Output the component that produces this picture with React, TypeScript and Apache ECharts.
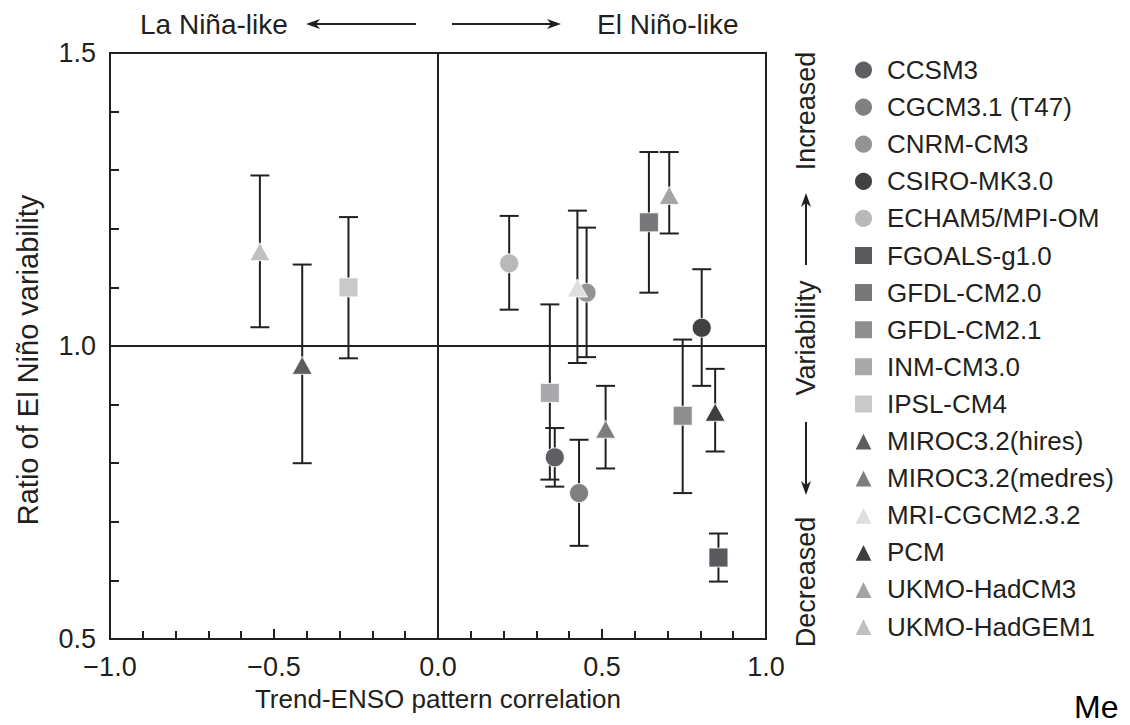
import React, { useEffect, useRef } from 'react';
import * as echarts from 'echarts';

const models = [
  'CCSM3', 'CGCM3.1 (T47)', 'CNRM-CM3', 'CSIRO-MK3.0', 'ECHAM5/MPI-OM',
  'FGOALS-g1.0', 'GFDL-CM2.0', 'GFDL-CM2.1', 'INM-CM3.0', 'IPSL-CM4',
  'MIROC3.2(hires)', 'MIROC3.2(medres)', 'MRI-CGCM2.3.2', 'PCM', 'UKMO-HadCM3', 'UKMO-HadGEM1',
];
const shapes = [
  'circle', 'circle', 'circle', 'circle', 'circle',
  'rect', 'rect', 'rect', 'rect', 'rect',
  'triangle', 'triangle', 'triangle', 'triangle', 'triangle', 'triangle',
];
const colors = [
  '#5f5f63', '#808083', '#939396', '#414144', '#b9b9bb',
  '#5a5a5e', '#78787b', '#8e8e91', '#a9a9ab', '#c9c9cb',
  '#5d5d61', '#7d7d80', '#dedede', '#3d3d40', '#a4a4a6', '#c0c0c2',
];
// Trend-ENSO pattern correlation
const trendCorr = [0.356, 0.430, 0.453, 0.804, 0.217, 0.855, 0.643, 0.746, 0.341, -0.273, -0.414, 0.511, 0.425, 0.845, 0.705, -0.543];
// Ratio of El Niño variability
const ratio = [0.810, 0.749, 1.091, 1.031, 1.141, 0.639, 1.211, 0.881, 0.920, 1.100, 0.967, 0.858, 1.099, 0.887, 1.257, 1.161];
const ratioLow = [0.760, 0.659, 0.981, 0.932, 1.062, 0.598, 1.091, 0.749, 0.772, 0.979, 0.800, 0.791, 0.971, 0.820, 1.192, 1.032];
const ratioHigh = [0.860, 0.840, 1.202, 1.131, 1.222, 0.680, 1.331, 1.011, 1.071, 1.220, 1.139, 0.932, 1.231, 0.961, 1.331, 1.291];

const xTickLabels = ['\u22121.0', '\u22120.5', '0.0', '0.5', '1.0'];
const yTickLabels = ['0.5', '1.0', '1.5'];

const INK = '#231f20';
const FONT = '"Liberation Sans", Arial, Helvetica, sans-serif';

export default function App() {
  const ref = useRef<HTMLDivElement>(null);
  useEffect(() => {
    if (!ref.current) return;
    const chart = echarts.init(ref.current, null, { renderer: 'svg' });

    const errorData = trendCorr.map((x, i) => [x, ratioLow[i], ratioHigh[i]]);

    const scatterSeries = models.map((m, i) => ({
      type: 'scatter',
      name: m,
      symbol: shapes[i],
      symbolSize: shapes[i] === 'triangle' ? [20, 18] : 19,
      itemStyle: { color: colors[i], borderColor: '#ffffff', borderWidth: 0.8, opacity: 1 },
      data: [[trendCorr[i], ratio[i]]],
      z: 5,
      emphasis: { disabled: true },
    }));

    const arrowH = (x1: number, x2: number, y: number) => {
      const dir = x2 > x1 ? 1 : -1;
      return [
        { type: 'line', shape: { x1, y1: y, x2: x2 - dir * 8, y2: y }, style: { stroke: INK, lineWidth: 2 } },
        { type: 'polygon', shape: { points: [[x2, y], [x2 - dir * 14, y - 5], [x2 - dir * 10, y], [x2 - dir * 14, y + 5]] }, style: { fill: INK } },
      ];
    };
    const arrowV = (y1: number, y2: number, x: number) => {
      const dir = y2 > y1 ? 1 : -1;
      return [
        { type: 'line', shape: { x1: x, y1, x2: x, y2: y2 - dir * 8 }, style: { stroke: INK, lineWidth: 2 } },
        { type: 'polygon', shape: { points: [[x, y2], [x - 5, y2 - dir * 14], [x, y2 - dir * 10], [x + 5, y2 - dir * 14]] }, style: { fill: INK } },
      ];
    };
    const vText = (text: string, x: number, y: number, size: number) => ({
      type: 'text', x, y, rotation: Math.PI / 2,
      style: { text, fill: INK, font: `${size}px ${FONT}`, align: 'center', verticalAlign: 'middle' },
    });

    chart.setOption({
      animation: false,
      backgroundColor: '#ffffff',
      textStyle: { fontFamily: FONT },
      grid: { left: 110, right: 364, top: 53, bottom: 86, show: true, borderColor: INK, borderWidth: 2, backgroundColor: 'transparent' },
      xAxis: {
        type: 'value', min: -1, max: 1, interval: 0.5,
        name: 'Trend-ENSO pattern correlation', nameLocation: 'middle', nameGap: 47,
        nameTextStyle: { fontSize: 26, color: INK, fontFamily: FONT },
        axisLine: { show: true, onZero: false, lineStyle: { color: INK, width: 2 } },
        axisTick: { show: true, inside: true, length: 10, lineStyle: { color: INK, width: 2 } },
        minorTick: { show: true, splitNumber: 5, length: 8, lineStyle: { color: INK, width: 2 } },
        axisLabel: { fontSize: 27, color: INK, margin: 14, fontFamily: FONT, formatter: (v: number) => xTickLabels[Math.round((v + 1) / 0.5)] },
        splitLine: { show: false },
      },
      yAxis: {
        type: 'value', min: 0.5, max: 1.5, interval: 0.5,
        axisLine: { show: true, onZero: false, lineStyle: { color: INK, width: 2 } },
        axisTick: { show: true, inside: true, length: 9, lineStyle: { color: INK, width: 2 } },
        minorTick: { show: true, splitNumber: 5, length: 9, lineStyle: { color: INK, width: 2 } },
        axisLabel: { fontSize: 27, color: INK, margin: 14, fontFamily: FONT, formatter: (v: number) => yTickLabels[Math.round((v - 0.5) / 0.5)] },
        splitLine: { show: false },
      },
      legend: {
        orient: 'vertical', left: 848, top: 50,
        itemWidth: 19, itemHeight: 19, itemGap: 7.1,
        textStyle: { fontSize: 26, color: INK, fontFamily: FONT, lineHeight: 30, padding: [0, 0, 0, 9] },
        data: models,
        selectedMode: false,
      },
      series: [
        {
          type: 'custom',
          name: 'errorbars',
          data: errorData,
          encode: { x: 0, y: [1, 2] },
          z: 3,
          renderItem: (params: any, api: any) => {
            const x = api.value(0);
            const lo = api.coord([x, api.value(1)]);
            const hi = api.coord([x, api.value(2)]);
            const hw = 9.5;
            const st = { stroke: INK, lineWidth: 2 };
            return {
              type: 'group',
              children: [
                { type: 'line', shape: { x1: lo[0], y1: lo[1], x2: hi[0], y2: hi[1] }, style: st },
                { type: 'line', shape: { x1: lo[0] - hw, y1: lo[1], x2: lo[0] + hw, y2: lo[1] }, style: st },
                { type: 'line', shape: { x1: hi[0] - hw, y1: hi[1], x2: hi[0] + hw, y2: hi[1] }, style: st },
              ],
            };
          },
          markLine: {
            silent: true, symbol: 'none', label: { show: false },
            lineStyle: { color: INK, width: 2, type: 'solid' },
            data: [{ xAxis: 0 }, { yAxis: 1 }],
          },
        },
        ...scatterSeries,
      ],
      graphic: [
        { type: 'text', x: 140, y: 24, style: { text: 'La Ni\u00f1a-like', fill: INK, font: `28px ${FONT}`, verticalAlign: 'middle' } },
        ...arrowH(416, 306, 24),
        ...arrowH(452, 561, 24),
        { type: 'text', x: 597, y: 24, style: { text: 'El Ni\u00f1o-like', fill: INK, font: `28px ${FONT}`, verticalAlign: 'middle' } },
        { type: 'text', x: 28, y: 360, rotation: Math.PI / 2, style: { text: 'Ratio of El Ni\u00f1o variability', fill: INK, font: `29px ${FONT}`, align: 'center', verticalAlign: 'middle' } },
        vText('Increased', 806, 111, 27),
        ...arrowV(265, 193, 806),
        vText('Variability', 806, 338, 27),
        ...arrowV(422, 495, 806),
        vText('Decreased', 806, 582, 27),
        { type: 'text', x: 1074, y: 707, style: { text: 'Me', fill: '#000000', font: `32px ${FONT}`, verticalAlign: 'middle' } },
      ],
    });
    return () => chart.dispose();
  }, []);
  return <div ref={ref} style={{ position: 'fixed', left: 0, top: 0, width: 1130, height: 725, background: '#fff' }} />;
}
